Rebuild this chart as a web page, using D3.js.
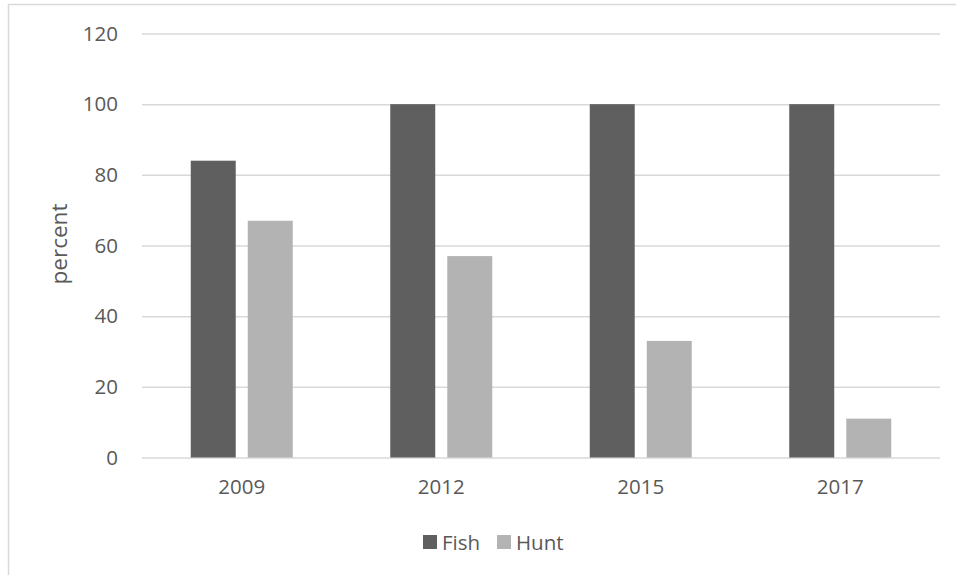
<!DOCTYPE html>
<html>
<head>
<meta charset="utf-8">
<script src="https://cdn.jsdelivr.net/npm/d3@7"></script>
<style>
  html, body { margin: 0; padding: 0; background: #fff; }
  svg { display: block; font-family: "Open Sans", "Noto Sans", sans-serif; }
</style>
</head>
<body>
<svg id="chart" width="956" height="575"></svg>
<script>
// Share of respondents who fish / hunt, by survey year
const years = ["2009", "2012", "2015", "2017"];
const seriesNames = ["Fish", "Hunt"];
const fishValues = [84, 100, 100, 100];
const huntValues = [67, 57, 33, 11];
const yTicks = [0, 20, 40, 60, 80, 100, 120];
const seriesColors = ["#5f5f5f", "#b3b3b3"];

const valuesBySeries = { Fish: fishValues, Hunt: huntValues };

const svg = d3.select("#chart");
const textColor = "#595959";
const gridColor = "#d9d9d9";

const plot = { left: 142, right: 940, top: 33.5, bottom: 457.5 };

// Chart area frame
svg.append("rect")
  .attr("x", 8.5).attr("y", 4.5)
  .attr("width", 1000).attr("height", 1000)
  .attr("fill", "none")
  .attr("stroke", gridColor)
  .attr("stroke-width", 1.5);

const x = d3.scaleBand()
  .domain(years)
  .range([plot.left, plot.right])
  .paddingInner(0).paddingOuter(0);

const groupWidth = 102;
const xSeries = d3.scaleBand()
  .domain(seriesNames)
  .range([-groupWidth / 2, groupWidth / 2])
  .paddingInner(0.211).paddingOuter(0);

const y = d3.scaleLinear()
  .domain([0, 120])
  .range([plot.bottom, plot.top]);

// Horizontal gridlines with value labels
const yAxis = d3.axisLeft(y)
  .tickValues(yTicks)
  .tickSize(-(plot.right - plot.left))
  .tickPadding(24);

const yG = svg.append("g")
  .attr("transform", `translate(${plot.left},0)`)
  .call(yAxis);
yG.select(".domain").remove();
yG.selectAll(".tick line").attr("stroke", gridColor).attr("stroke-width", 1.5);
yG.selectAll(".tick text")
  .attr("fill", textColor)
  .attr("font-size", 20.5)
  .attr("font-family", "Open Sans, Noto Sans, sans-serif");

// Category labels under the baseline
const xAxis = d3.axisBottom(x).tickSize(0).tickPadding(22);
const xG = svg.append("g")
  .attr("transform", `translate(0,${plot.bottom})`)
  .call(xAxis);
xG.select(".domain").remove();
xG.selectAll(".tick text")
  .attr("fill", textColor)
  .attr("font-size", 20.5)
  .attr("font-family", "Open Sans, Noto Sans, sans-serif");

// Clustered bars
const groups = svg.append("g").selectAll("g")
  .data(years)
  .join("g")
  .attr("transform", d => `translate(${x(d) + x.bandwidth() / 2},0)`);

groups.selectAll("rect")
  .data((year, i) => seriesNames.map((s, k) => ({ s, k, v: valuesBySeries[s][i] })))
  .join("rect")
  .attr("x", d => xSeries(d.s))
  .attr("width", xSeries.bandwidth())
  .attr("y", d => y(d.v))
  .attr("height", d => y(0) - y(d.v))
  .attr("fill", d => seriesColors[d.k]);

// Y axis title
svg.append("text")
  .attr("transform", "translate(67,244) rotate(-90)")
  .attr("text-anchor", "middle")
  .attr("fill", textColor)
  .attr("font-size", 22.5)
  .text("percent");

// Legend
const legendItems = [
  { name: seriesNames[0], color: seriesColors[0], x: 423 },
  { name: seriesNames[1], color: seriesColors[1], x: 497 }
];
const legend = svg.append("g");
legendItems.forEach(item => {
  legend.append("rect")
    .attr("x", item.x).attr("y", 535)
    .attr("width", 14).attr("height", 14)
    .attr("fill", item.color);
  legend.append("text")
    .attr("x", item.x + 19).attr("y", 549.5)
    .attr("fill", textColor)
    .attr("font-size", 20.5)
    .text(item.name);
});
</script>
</body>
</html>
